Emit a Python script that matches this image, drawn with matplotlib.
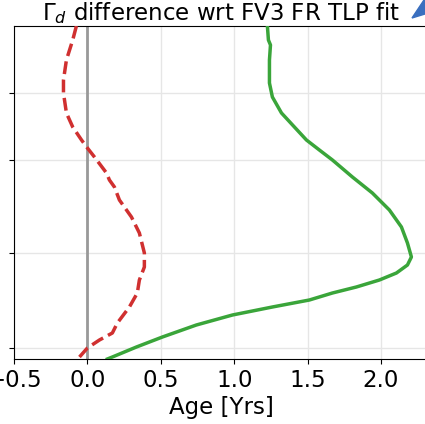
import matplotlib
matplotlib.use("Agg")
import matplotlib.pyplot as plt
from matplotlib.patches import Polygon

# vertical coordinate (arbitrary level units, bottom = 0)
red_level = [333, 319, 299, 279, 266, 246, 232, 219, 211, 202, 186, 179, 172,
             159, 142, 126, 106, 92, 79, 66, 52, 36, 26, 19, 11, 2]
red_age = [-0.075, -0.10, -0.143, -0.163, -0.163, -0.143, -0.10, -0.04, 0.0,
           0.048, 0.13, 0.15, 0.184, 0.218, 0.30, 0.354, 0.388, 0.388, 0.354,
           0.340, 0.286, 0.204, 0.170, 0.082, 0.0, -0.054]

green_level = [333, 319, 314, 299, 276, 262, 246, 232, 219, 209, 199, 182, 166,
               149, 132, 116, 102, 94, 86, 79, 72, 66, 59, 52, 44, 34, 22, 12,
               2, 0]
green_age = [1.226, 1.233, 1.247, 1.240, 1.240, 1.260, 1.322, 1.410, 1.492,
             1.580, 1.669, 1.805, 1.941, 2.057, 2.139, 2.180, 2.207, 2.180,
             2.105, 1.989, 1.832, 1.669, 1.512, 1.260, 0.988, 0.742, 0.511,
             0.334, 0.170, 0.136]

level_ticks = [11, 106, 199, 266]
age_ticks = [-0.5, 0.0, 0.5, 1.0, 1.5, 2.0]

fig = plt.figure(figsize=(4.25, 4.24), dpi=100)
ax = fig.add_axes([14 / 425, 65 / 424, 414 / 425, 333 / 424])

ax.axvline(0.0, color="#999999", lw=2, zorder=1)
ax.plot(red_age, red_level, "--", color="#d03030", lw=2.5, zorder=3)
ax.plot(green_age, green_level, "-", color="#3aa53a", lw=2.5, zorder=3)

ax.set_xlim(-0.5, 2.32)
ax.set_ylim(0, 333)
ax.set_xticks(age_ticks)
ax.set_yticks(level_ticks)
ax.set_yticklabels([])
ax.tick_params(labelsize=16.5)
ax.grid(True, color="#e6e6e6", lw=1)
ax.set_axisbelow(True)
ax.set_xlabel("Age [Yrs]", fontsize=16.5, labelpad=3)
ax.set_title(r"$\Gamma_d$ difference wrt FV3 FR TLP fit", fontsize=16.5, pad=2)

# corner of the neighbouring panel
tri = Polygon([[412 / 425, 1 - 18 / 424], [424 / 425, 1.0], [1.0, 1.0],
               [1.0, 1 - 14 / 424]], closed=True, transform=fig.transFigure,
              color="#3a6fbf", clip_on=False)
fig.patches.append(tri)

fig.savefig("out.png", dpi=100)
